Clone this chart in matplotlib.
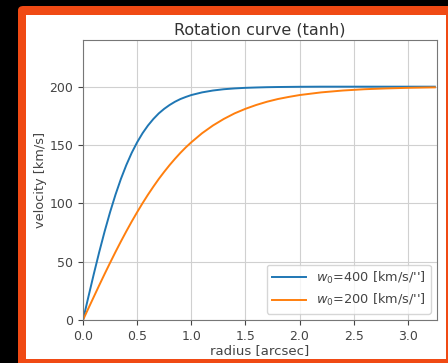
import matplotlib
matplotlib.use("Agg")
import matplotlib.pyplot as plt
from matplotlib.patches import FancyBboxPatch, Rectangle

# radius samples [arcsec] and velocities [km/s]
radius = [0.0, 0.05, 0.1, 0.15, 0.2, 0.25, 0.3, 0.35, 0.4, 0.45, 0.5,
          0.55, 0.6, 0.65, 0.7, 0.75, 0.8, 0.85, 0.9, 0.95, 1.0,
          1.1, 1.2, 1.3, 1.4, 1.5, 1.6, 1.7, 1.8, 1.9, 2.0,
          2.2, 2.4, 2.6, 2.8, 3.0, 3.25]
v_w400 = [0, 19.9, 39.5, 58.3, 76.0, 92.4, 107.4, 120.9, 132.8, 143.3, 152.3,
          160.1, 166.7, 172.3, 177.1, 181.0, 184.3, 187.1, 189.4, 191.2, 192.8,
          195.1, 196.7, 197.8, 198.5, 199.0, 199.3, 199.55, 199.7, 199.8, 199.9,
          200, 200, 200, 200, 200, 200]
v_w200 = [0, 10.0, 19.9, 29.8, 39.5, 49.0, 58.3, 67.3, 76.0, 84.4, 92.4,
          100.1, 107.4, 114.3, 120.9, 127.0, 132.8, 138.2, 143.3, 148.0, 152.3,
          160.1, 166.7, 172.3, 177.1, 181.0, 184.3, 187.1, 189.4, 191.2, 192.8,
          195.1, 196.7, 197.8, 198.5, 199.0, 199.4]
labels = [r"$w_0$=400 [km/s/'']", r"$w_0$=200 [km/s/'']"]

fig = plt.figure(figsize=(4.48, 3.63), dpi=100)
fig.patch.set_facecolor("black")

# orange frame and white card behind the plot
W, H = 448.0, 363.0
frame = FancyBboxPatch((18 / W, -0.02), 1.0, (363 - 6) / H + 0.02,
                       boxstyle="round,pad=0,rounding_size=0.012",
                       transform=fig.transFigure, facecolor="#f04a14",
                       edgecolor="none", zorder=-10)
fig.patches.append(frame)
card = Rectangle((26 / W, 4 / H), (446 - 26) / W, (363 - 15 - 4) / H,
                 transform=fig.transFigure, facecolor="white",
                 edgecolor="none", zorder=-9)
fig.patches.append(card)

txt = "#444444"
ax = fig.add_axes([83 / W, (363 - 320) / H, (437 - 83) / W, (320 - 40) / H])
ax.plot(radius, v_w400, color="tab:blue", lw=1.4, label=labels[0])
ax.plot(radius, v_w200, color="tab:orange", lw=1.4, label=labels[1])
ax.set_xlim(0, 3.27)
ax.set_ylim(0, 240)
ax.set_yticks([0, 50, 100, 150, 200])
ax.set_xticks([0, 0.5, 1.0, 1.5, 2.0, 2.5, 3.0])
ax.tick_params(labelsize=9, colors=txt)
ax.grid(True, color="#d0d0d0", lw=0.8)
ax.set_title("Rotation curve (tanh)", fontsize=11.5, color="#333333", pad=4)
ax.set_xlabel("radius [arcsec]", fontsize=9.5, color=txt, labelpad=1)
ax.set_ylabel("velocity [km/s]", fontsize=9.3, color=txt, labelpad=2)
for s in ax.spines.values():
    s.set_color("#777777")
leg = ax.legend(loc="lower right", fontsize=9.3, frameon=True, handlelength=2.6)
for t in leg.get_texts():
    t.set_color(txt)

fig.savefig("out.png", dpi=100, facecolor=fig.get_facecolor())
